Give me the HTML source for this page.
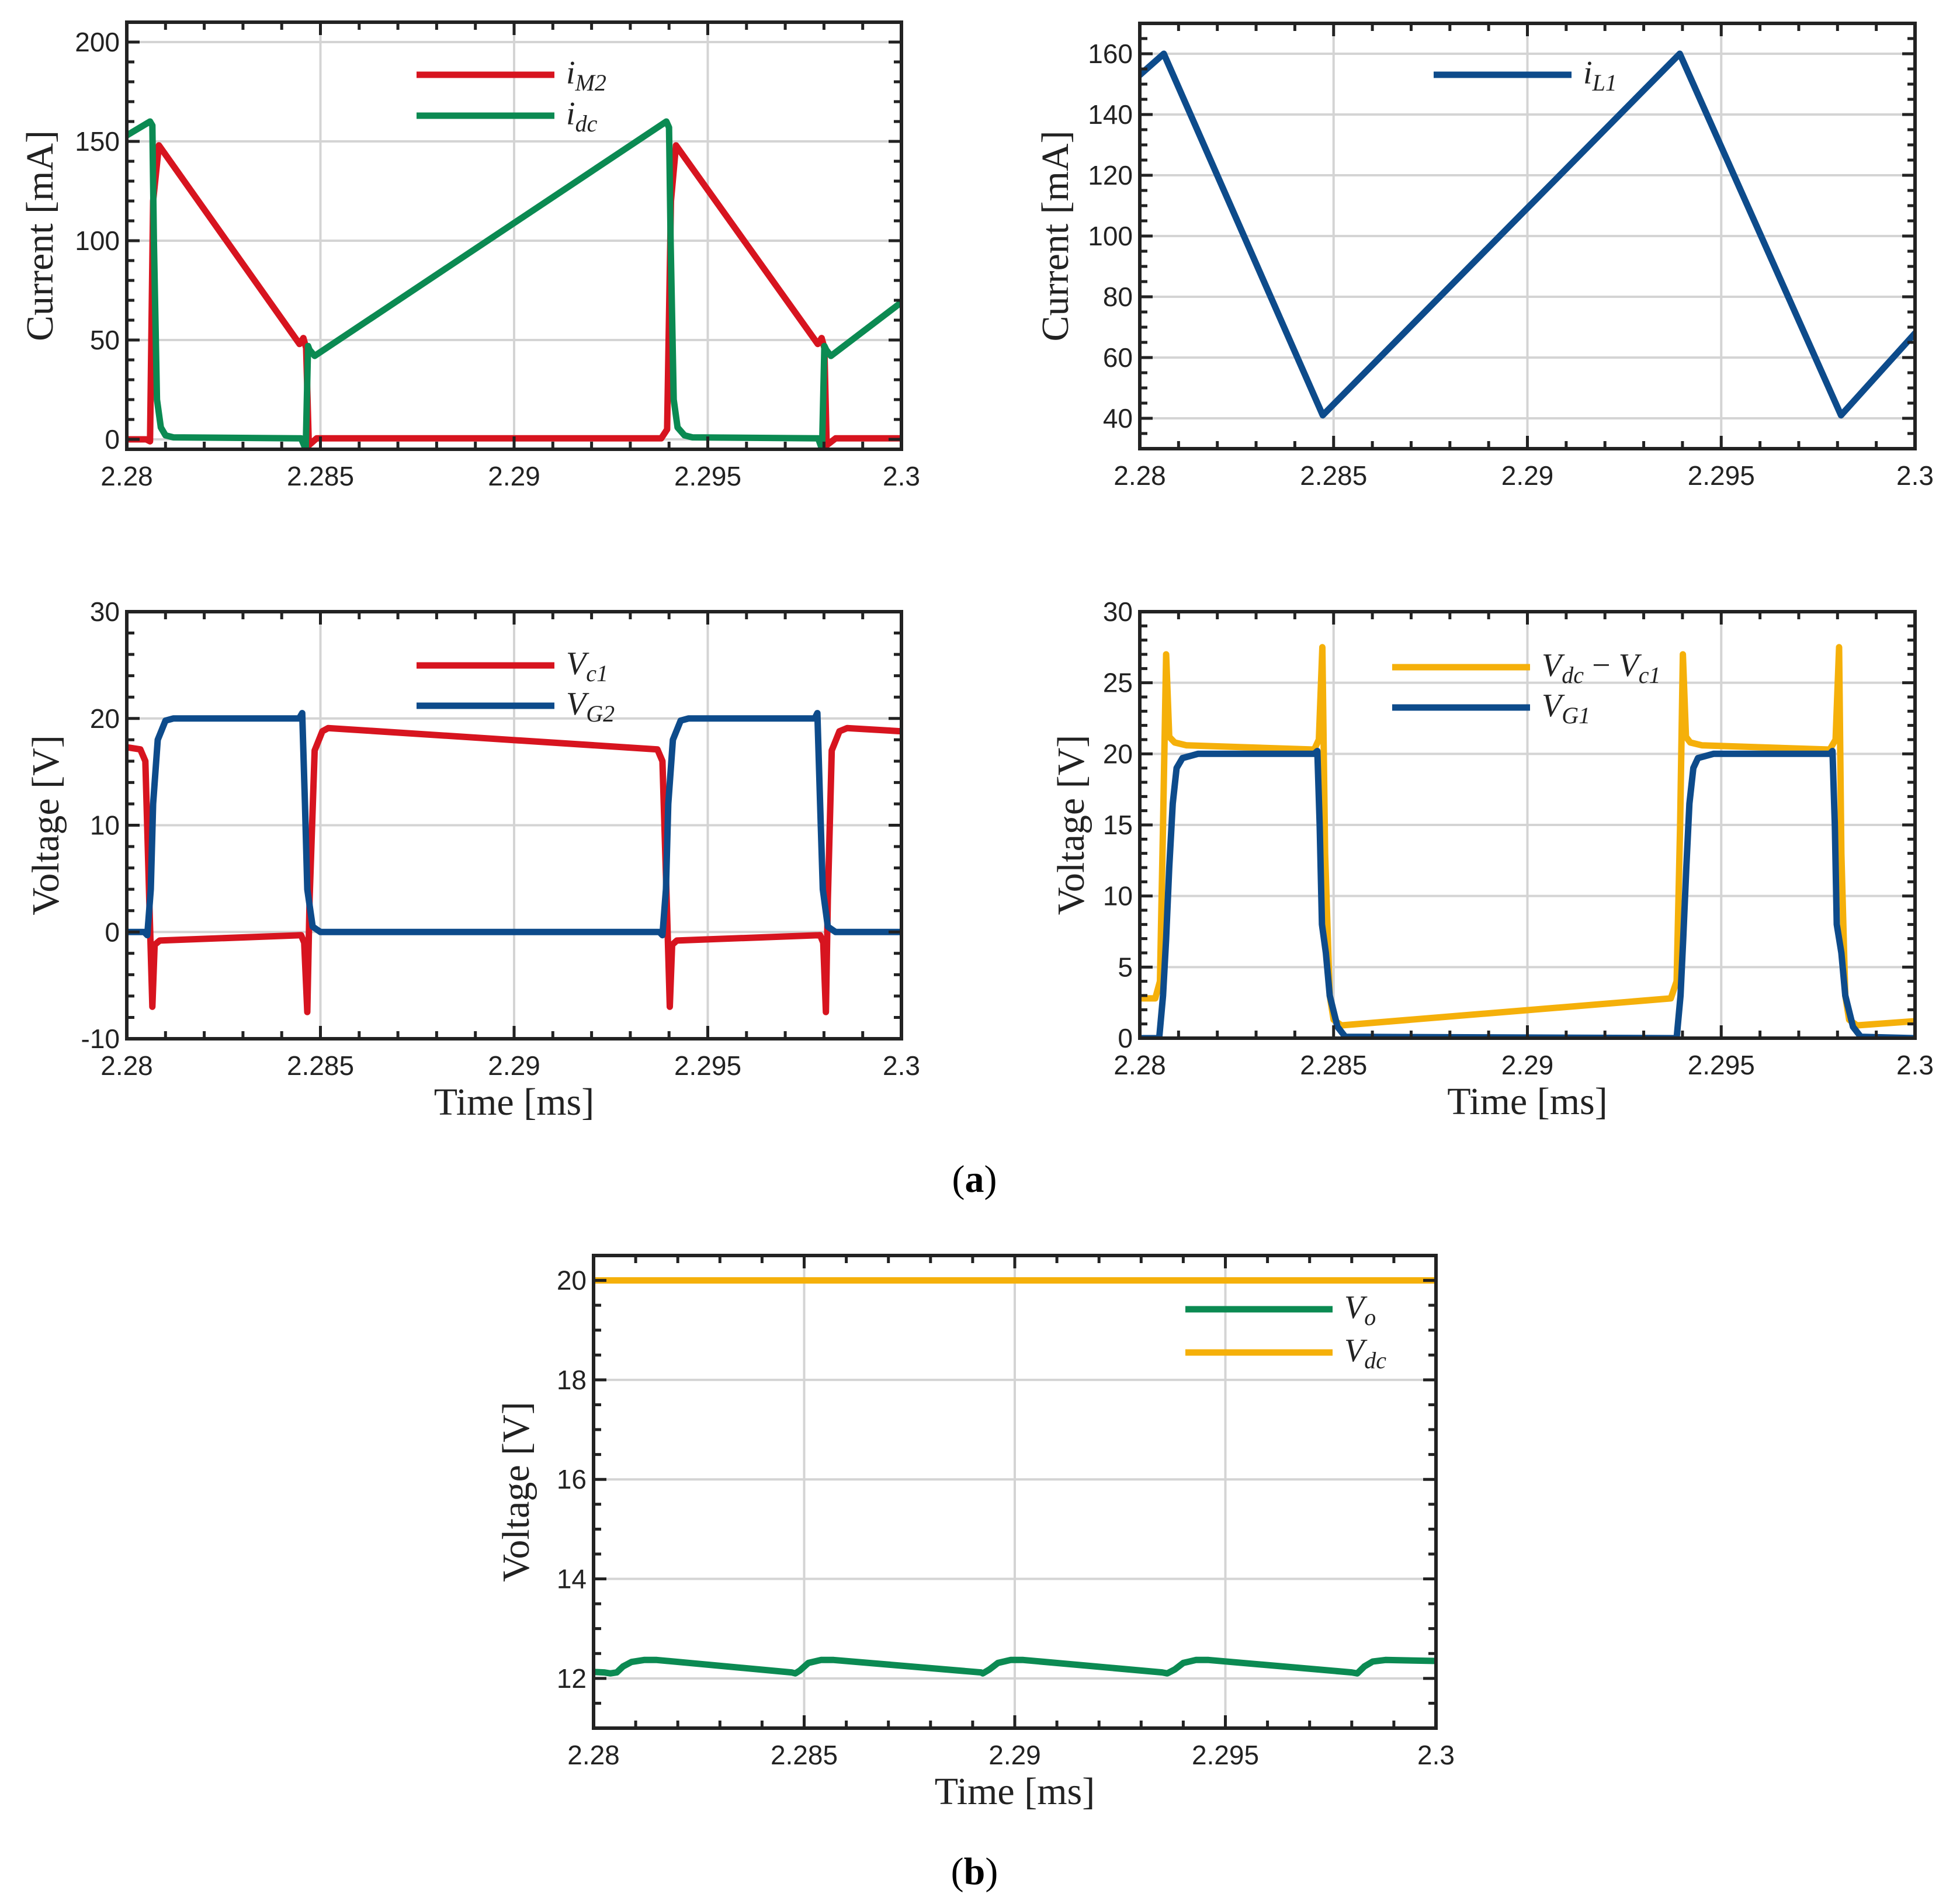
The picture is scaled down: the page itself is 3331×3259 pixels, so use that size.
<!DOCTYPE html>
<html><head><meta charset="utf-8"><style>
html,body{margin:0;padding:0;background:#fff;}
svg{display:block;}
</style></head><body>
<svg id="fig" xmlns="http://www.w3.org/2000/svg" width="3331" height="3259" viewBox="0 0 3331 3259">
<rect x="0" y="0" width="3331" height="3259" fill="#fff"/>
<text x="1668" y="2040" font-family="Liberation Serif, serif" font-size="66" text-anchor="middle">(<tspan font-weight="bold">a</tspan>)</text>
<text x="1668" y="3225" font-family="Liberation Serif, serif" font-size="66" text-anchor="middle">(<tspan font-weight="bold">b</tspan>)</text>
</svg>
<script>
// ---------- data ----------
const xTicks = [2.28, 2.285, 2.29, 2.295, 2.3];
const xTickLabels = ['2.28', '2.285', '2.29', '2.295', '2.3'];

const iM2_t = [2.28, 2.2805, 2.2806, 2.28068, 2.28083, 2.28446, 2.28456, 2.28463, 2.2847, 2.2849, 2.2938, 2.29395, 2.29405, 2.29418, 2.29784, 2.29794, 2.29801, 2.29807, 2.2983, 2.3];
const iM2_v = [0, 0, -1, 120, 148, 48, 51, 46, -3, 0.5, 0.5, 5, 120, 148, 48, 51, 46, -3, 0.5, 0.5];

const idc_t = [2.28, 2.2806, 2.28066, 2.2807, 2.28078, 2.28088, 2.281, 2.2812, 2.2845, 2.28462, 2.28468, 2.28472, 2.28485, 2.29393, 2.29400, 2.29404, 2.29412, 2.29422, 2.2944, 2.2946, 2.29785, 2.29795, 2.29801, 2.29806, 2.29818, 2.3];
const idc_v = [153, 160, 158, 100, 20, 6, 2, 1, 0.5, -5, 47, 45, 42, 160, 157, 100, 20, 6, 2, 1, 0.5, -5, 47, 45, 42, 69];

const iL1_t = [2.28, 2.28062, 2.28472, 2.29393, 2.29809, 2.3];
const iL1_v = [153, 160, 41, 160, 41, 68];

const vc1_t = [2.28, 2.28035, 2.28048, 2.28058, 2.28066, 2.28072, 2.28085, 2.2845, 2.28458, 2.28466, 2.28472, 2.28485, 2.28505, 2.2852, 2.2937, 2.29383, 2.29394, 2.29402, 2.29408, 2.2942, 2.2979, 2.29798, 2.29805, 2.2981, 2.2982, 2.2984, 2.2986, 2.3];
const vc1_v = [17.3, 17.1, 16, 3, -7, -1.2, -0.8, -0.3, -1, -7.5, 3, 17, 18.8, 19.1, 17.1, 16, 3, -7, -1.2, -0.8, -0.3, -1, -7.5, 3, 17, 18.8, 19.1, 18.8];

const vg2_t = [2.28, 2.28045, 2.28053, 2.28062, 2.28068, 2.2808, 2.281, 2.2812, 2.28445, 2.28453, 2.2846, 2.28466, 2.2848, 2.285, 2.29375, 2.29383, 2.29392, 2.29398, 2.2941, 2.2943, 2.2945, 2.29776, 2.29783, 2.2979, 2.29797, 2.2981, 2.2983, 2.3];
const vg2_v = [0, 0, -0.3, 4, 12, 18, 19.8, 20, 20, 20.5, 12, 4, 0.5, 0, 0, -0.3, 4, 12, 18, 19.8, 20, 20, 20.5, 12, 4, 0.5, 0, 0];

const vdiff_t = [2.28, 2.2804, 2.28052, 2.2806, 2.28068, 2.28076, 2.2809, 2.2812, 2.2845, 2.28462, 2.28471, 2.28478, 2.2849, 2.285, 2.2852, 2.2937, 2.29385, 2.29394, 2.29401, 2.29409, 2.2942, 2.2945, 2.2978, 2.29795, 2.29804, 2.2981, 2.2982, 2.2983, 2.2985, 2.3];
const vdiff_v = [2.8, 2.8, 4, 15, 27, 21.2, 20.8, 20.6, 20.3, 21, 27.5, 13, 3, 1.3, 0.9, 2.8, 4, 15, 27, 21.2, 20.8, 20.6, 20.3, 21, 27.5, 13, 3, 1.3, 0.9, 1.2];

const vg1_t = [2.28, 2.2805, 2.2806, 2.28068, 2.28076, 2.28085, 2.28095, 2.2811, 2.2815, 2.2845, 2.28458, 2.28464, 2.2847, 2.2848, 2.2849, 2.2851, 2.2853, 2.29385, 2.29395, 2.29402, 2.2941, 2.29418, 2.29428, 2.2944, 2.2948, 2.2978, 2.29787, 2.29793, 2.29798, 2.2981, 2.2982, 2.2984, 2.2986, 2.3];
const vg1_v = [0, 0, 3, 7, 12, 16.5, 19, 19.7, 20, 20, 20.2, 15, 8, 6, 3, 0.8, 0.1, 0, 3, 7, 12, 16.5, 19, 19.7, 20, 20, 20.2, 15, 8, 6, 3, 0.8, 0.1, 0];

const vo_t = [2.28, 2.28025, 2.2804, 2.28055, 2.2807, 2.2809, 2.2812, 2.2815, 2.2847, 2.28479, 2.2849, 2.2851, 2.2854, 2.2857, 2.2892, 2.28924, 2.2894, 2.2896, 2.2899, 2.2902, 2.2935, 2.29362, 2.2938, 2.294, 2.2943, 2.2946, 2.298, 2.29813, 2.2983, 2.2985, 2.2988, 2.3];
const vo_v = [12.13, 12.12, 12.1, 12.12, 12.24, 12.33, 12.37, 12.37, 12.12, 12.1, 12.16, 12.31, 12.37, 12.37, 12.12, 12.1, 12.18, 12.31, 12.37, 12.37, 12.12, 12.1, 12.18, 12.31, 12.37, 12.37, 12.12, 12.1, 12.24, 12.34, 12.37, 12.35];

const vdc_t = [2.28, 2.3];
const vdc_v = [20, 20];

const p1_yTicks = [0, 50, 100, 150, 200];
const p2_yTicks = [40, 60, 80, 100, 120, 140, 160];
const p3_yTicks = [-10, 0, 10, 20, 30];
const p4_yTicks = [0, 5, 10, 15, 20, 25, 30];
const p5_yTicks = [12, 14, 16, 18, 20];

// ---------- drawing ----------
const NS = 'http://www.w3.org/2000/svg';
const svg = document.getElementById('fig');
const RED = '#d7141f', GREEN = '#0b8a52', BLUE = '#0d4b8b', ORANGE = '#f5b00a';

function mk(tag, attrs, parent) {
  const e = document.createElementNS(NS, tag);
  for (const k in attrs) e.setAttribute(k, attrs[k]);
  (parent || svg).appendChild(e);
  return e;
}

function drawPlot(cfg) {
  const g = mk('g', {});
  
  
  const X = t => cfg.L + (t - 2.28) / 0.02 * (cfg.R - cfg.L);
  const Y = v => cfg.B - (v - cfg.ymin) / (cfg.ymax - cfg.ymin) * (cfg.B - cfg.T);
  xTicks.forEach(t => {
    const l = mk('line', {x1: X(t), x2: X(t), y1: cfg.T, y2: cfg.B, stroke: '#d4d4d4', 'stroke-width': 4}, g);
    
    
  });
  cfg.yTicks.forEach(v => {
    const l = mk('line', {x1: cfg.L, x2: cfg.R, y1: Y(v), y2: Y(v), stroke: '#d4d4d4', 'stroke-width': 4}, g);
    
    
  });
  const cid = 'clip-' + cfg.name;
  const cp = mk('clipPath', {id: cid}, g);
  mk('rect', {x: cfg.L, y: cfg.T, width: cfg.R - cfg.L, height: cfg.B - cfg.T}, cp);
  const sg = mk('g', {'clip-path': 'url(#' + cid + ')'}, g);
  cfg.series.forEach(s => {
    const d = s.t.map((t, i) => (i ? 'L' : 'M') + X(t).toFixed(1) + ' ' + Y(s.v[i]).toFixed(1)).join(' ');
    const p = mk('path', {d: d, fill: 'none', stroke: s.color, 'stroke-width': 11, 'stroke-linejoin': 'round', 'stroke-linecap': 'round'}, sg);
    
    
  });
  let tk = '';
  for (let i = 0; i <= 20; i++) {
    const x = X(2.28 + i * 0.001);
    const len = (i % 5 === 0) ? 22 : 13;
    tk += `M${x} ${cfg.B}v${-len}M${x} ${cfg.T}v${len}`;
  }
  for (let v = cfg.ymin; v <= cfg.ymax + 1e-9; v += cfg.minor) {
    const vv = Math.round(v / cfg.minor) * cfg.minor;
    if (vv < cfg.ymin - 1e-9 || vv > cfg.ymax + 1e-9) continue;
    const y = Y(vv);
    const major = cfg.yTicks.some(m => Math.abs(m - vv) < 1e-6);
    const len = major ? 22 : 13;
    tk += `M${cfg.L} ${y}h${len}M${cfg.R} ${y}h${-len}`;
  }
  const tp = mk('path', {d: tk, stroke: '#222', 'stroke-width': 5, fill: 'none'}, g);
  
  
  const box = mk('rect', {x: cfg.L, y: cfg.T, width: cfg.R - cfg.L, height: cfg.B - cfg.T, fill: 'none', stroke: '#222', 'stroke-width': 6}, g);
  
  
  xTicks.forEach((t, i) => {
    const tx = mk('text', {x: X(t), y: cfg.B + 62, 'text-anchor': 'middle', 'font-family': 'Liberation Sans, sans-serif', 'font-size': 46, fill: '#222'}, g);
    tx.textContent = xTickLabels[i];
    
    
  });
  cfg.yTicks.forEach(v => {
    const tx = mk('text', {x: cfg.L - 12, y: Y(v) + 16, 'text-anchor': 'end', 'font-family': 'Liberation Sans, sans-serif', 'font-size': 46, fill: '#222'}, g);
    tx.textContent = String(v);
    
    
  });
  const yt = mk('text', {x: 0, y: 0, transform: `translate(${cfg.ytx},${(cfg.T + cfg.B) / 2}) rotate(-90)`, 'text-anchor': 'middle', 'font-family': 'Liberation Serif, serif', 'font-size': 66, fill: '#222'}, g);
  yt.textContent = cfg.ytitle;
  
  
  if (cfg.xtitle) {
    const xt = mk('text', {x: (cfg.L + cfg.R) / 2, y: cfg.B + 130, 'text-anchor': 'middle', 'font-family': 'Liberation Serif, serif', 'font-size': 66, fill: '#222'}, g);
    xt.textContent = 'Time [ms]';
    
    
  }
  cfg.legend.forEach((e, i) => {
    const y = cfg.lg.y + i * cfg.lg.dy;
    const ln = mk('line', {x1: cfg.lg.x1, x2: cfg.lg.x2, y1: y, y2: y, stroke: e.color, 'stroke-width': 11}, g);
    
    
    const tx = mk('text', {x: cfg.lg.x2 + 20, y: y + 15, 'font-family': 'Liberation Serif, serif', 'font-size': 56, 'font-style': 'italic', fill: '#222'}, g);
    tx.innerHTML = e.label;
    
    
  });
}

const sub = s => `<tspan font-size="40" dy="12">${s}</tspan>`;

drawPlot({name: 'plot-currents-m2-dc', L: 217, R: 1543, T: 38, B: 769, ymin: -5, ymax: 210, yTicks: p1_yTicks, minor: 10, ytx: 90, ytitle: 'Current [mA]',
  series: [{name: 'i-m2', t: iM2_t, v: iM2_v, color: RED}, {name: 'i-dc', t: idc_t, v: idc_v, color: GREEN}],
  lg: {x1: 713, x2: 949, y: 128, dy: 70}, legend: [{color: RED, label: 'i' + sub('M2')}, {color: GREEN, label: 'i' + sub('dc')}]});

drawPlot({name: 'plot-current-l1', L: 1951, R: 3278, T: 40, B: 768, ymin: 30, ymax: 170, yTicks: p2_yTicks, minor: 5, ytx: 1828, ytitle: 'Current [mA]',
  series: [{name: 'i-l1', t: iL1_t, v: iL1_v, color: BLUE}],
  lg: {x1: 2454, x2: 2690, y: 128, dy: 70}, legend: [{color: BLUE, label: 'i' + sub('L1')}]});

drawPlot({name: 'plot-voltages-c1-g2', L: 217, R: 1543, T: 1047, B: 1778, ymin: -10, ymax: 30, yTicks: p3_yTicks, minor: 2, ytx: 100, ytitle: 'Voltage [V]', xtitle: true,
  series: [{name: 'v-c1', t: vc1_t, v: vc1_v, color: RED}, {name: 'v-g2', t: vg2_t, v: vg2_v, color: BLUE}],
  lg: {x1: 713, x2: 949, y: 1139, dy: 69}, legend: [{color: RED, label: 'V' + sub('c1')}, {color: BLUE, label: 'V' + sub('G2')}]});

drawPlot({name: 'plot-voltages-diff-g1', L: 1951, R: 3278, T: 1047, B: 1777, ymin: 0, ymax: 30, yTicks: p4_yTicks, minor: 1, ytx: 1855, ytitle: 'Voltage [V]', xtitle: true,
  series: [{name: 'v-dc-minus-v-c1', t: vdiff_t, v: vdiff_v, color: ORANGE}, {name: 'v-g1', t: vg1_t, v: vg1_v, color: BLUE}],
  lg: {x1: 2383, x2: 2619, y: 1142, dy: 69}, legend: [{color: ORANGE, label: 'V' + sub('dc') + '<tspan dy="-12" font-style="normal"> − </tspan>V' + sub('c1')}, {color: BLUE, label: 'V' + sub('G1')}]});

drawPlot({name: 'plot-output-voltage', L: 1016, R: 2458, T: 2149, B: 2958, ymin: 11, ymax: 20.5, yTicks: p5_yTicks, minor: 0.5, ytx: 905, ytitle: 'Voltage [V]', xtitle: true,
  series: [{name: 'v-dc', t: vdc_t, v: vdc_v, color: ORANGE}, {name: 'v-o', t: vo_t, v: vo_v, color: GREEN}],
  lg: {x1: 2029, x2: 2281, y: 2241, dy: 74}, legend: [{color: GREEN, label: 'V' + sub('o')}, {color: ORANGE, label: 'V' + sub('dc')}]});
</script>
</body></html>
